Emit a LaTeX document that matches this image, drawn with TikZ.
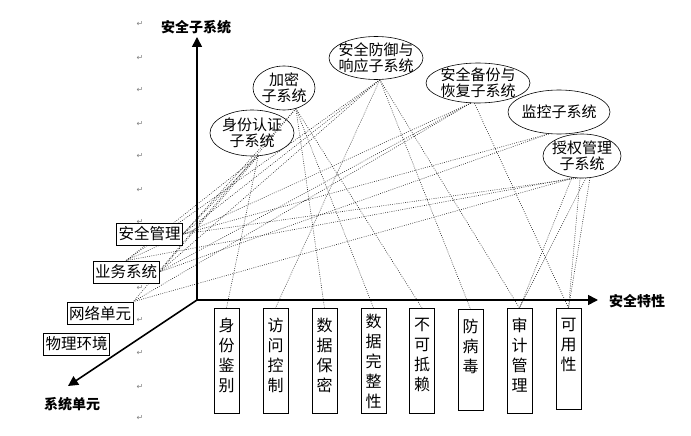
\documentclass[tikz,border=0pt]{standalone}
\usepackage{fontspec}
\newfontfamily\cjk{Noto Sans CJK SC}
\newfontfamily\dejavu{DejaVu Sans}
\usetikzlibrary{shapes.geometric,arrows.meta}
\begin{document}
\begin{tikzpicture}[x=1pt,y=-1pt,
  ell/.style={ellipse,draw,line width=0.6pt,inner sep=0pt},
  etxt/.style={font=\cjk\fontsize{15}{16}\selectfont,align=center,inner sep=0pt},
  lbox/.style={draw,fill=white,line width=0.8pt,minimum width=66pt,minimum height=22pt,inner sep=0pt,font=\cjk\fontsize{15.5}{16}\selectfont},
  vbox/.style={draw,fill=white,line width=0.8pt,minimum width=25pt,inner sep=0pt,anchor=north},
  vtxt/.style={font=\cjk\fontsize{16}{20}\selectfont,align=center,inner sep=0pt,anchor=north},
  link/.style={line width=0.6pt,black!85,dash pattern=on 0.8pt off 1.4pt},
  axis/.style={line width=1.6pt,-{Triangle[length=10pt,width=10pt]}},
  albl/.style={font=\cjk\bfseries\fontsize{14}{16}\selectfont,inner sep=0pt},
  ret/.style={font=\dejavu\fontsize{8}{8}\selectfont,text=black!50,inner sep=0pt}
]
\useasboundingbox (0,0) rectangle (691,436);

% paragraph marks
\foreach \yy in {24,58,90,124,156,190,222,288,320,353,387,418}
  \node[ret] at (140,\yy) {↵};

% ellipses (shapes only, named)
\node[ell,minimum width=84pt,minimum height=46pt] (eA) at (252,133) {};
\node[ell,minimum width=62pt,minimum height=44pt] (eB) at (284,88) {};
\node[ell,minimum width=94pt,minimum height=43pt] (eC) at (376,58) {};
\node[ell,minimum width=104pt,minimum height=40pt] (eD) at (478,83) {};
\node[ell,minimum width=102pt,minimum height=44pt] (eE) at (559,112) {};
\node[ell,minimum width=78pt,minimum height=44pt] (eF) at (582,156) {};

% positions of the boxes
\path (149.5,234) coordinate (sgc) (126,272) coordinate (ywc) (100,313) coordinate (wlc) (76.5,344) coordinate (wjc);
\path (226.5,308) coordinate (b1c) (275.5,308) coordinate (b2c) (324.5,308) coordinate (b3c)
      (373.5,308) coordinate (b4c) (422,308) coordinate (b5c) (470.5,309) coordinate (b6c)
      (519.5,308) coordinate (b7c) (568.5,308) coordinate (b8c);
\path node[lbox,draw=none,fill=none] (sg) at (sgc) {}
      node[lbox,draw=none,fill=none] (yw) at (ywc) {}
      node[lbox,draw=none,fill=none] (wl) at (wlc) {};
\foreach \n in {1,...,8} \path node[vbox,draw=none,fill=none,minimum height=100pt] (b\n) at (b\n c) {};

% dotted connectors
\draw[link] (eA.-75) -- (sg.east);
\draw[link] (eA.-75) -- (yw.north);
\draw[link] (eA.-75) -- (yw.east);
\draw[link] (eA.-75) -- (b1.north);
\draw[link] (eB.-60) -- (sg.east);
\draw[link] (eB.-60) -- (wl.north east);
\draw[link] (eB.-60) -- (b3.north);
\draw[link] (eB.-60) -- (b4.north);
\draw[link] (eB.-60) -- (b5.north);
\draw[link] (eC.-80) -- (sg.east);
\draw[link] (eC.-80) -- (yw.north);
\draw[link] (eC.-80) -- (yw.east);
\draw[link] (eC.-80) -- (b2.north);
\draw[link] (eC.-80) -- (b6.north);
\draw[link] (eC.-80) -- (b7.north);
\draw[link] (eD.-110) -- (yw.north);
\draw[link] (eD.-110) -- (yw.east);
\draw[link] (eD.-110) -- (wl.north east);
\draw[link] (eD.-100) -- (b8.north);
\draw[link] (eE.-115) -- (sg.east);
\draw[link] (eE.-115) -- (yw.east);
\draw[link] (eF.-110) -- (yw.north);
\draw[link] (eF.-110) -- (wl.north east);
\draw[link] (eF.-100) -- (sg.east);
\draw[link] (eF.-115) -- (b7.north);
\draw[link] (eF.-80) -- (b7.north);
\draw[link] (eF.-95) -- (b8.north);
\draw[link] (eF.-70) -- (b8.north);

% left boxes drawn
\node[lbox] at (sgc) {安全管理};
\node[lbox] at (ywc) {业务系统};
\node[lbox] at (wlc) {网络单元};
\node[lbox] (wj) at (wjc) {物理环境};

% bottom boxes
\node[vbox,minimum height=105pt] (v1) at (b1c) {};
\node[vbox,minimum height=105pt] (v2) at (b2c) {};
\node[vbox,minimum height=105pt] (v3) at (b3c) {};
\node[vbox,minimum height=105pt] (v4) at (b4c) {};
\node[vbox,minimum height=105pt] (v5) at (b5c) {};
\node[vbox,minimum height=101pt] (v6) at (b6c) {};
\node[vbox,minimum height=105pt] (v7) at (b7c) {};
\node[vbox,minimum height=101pt] (v8) at (b8c) {};
\node[vtxt] at ([yshift=-10pt]v1.north) {身\\份\\鉴\\别};
\node[vtxt] at ([yshift=-10pt]v2.north) {访\\问\\控\\制};
\node[vtxt] at ([yshift=-10pt]v3.north) {数\\据\\保\\密};
\node[vtxt] at ([yshift=-6pt]v4.north) {数\\据\\完\\整\\性};
\node[vtxt] at ([yshift=-10pt]v5.north) {不\\可\\抵\\赖};
\node[vtxt] at ([yshift=-10pt]v6.north) {防\\病\\毒};
\node[vtxt] at ([yshift=-10pt]v7.north) {审\\计\\管\\理};
\node[vtxt] at ([yshift=-10pt]v8.north) {可\\用\\性};

% ellipse texts
\node[etxt] at (eA) {身份认证\\子系统};
\node[etxt] at (eB) {加密\\子系统};
\node[etxt] at (eC) {安全防御与\\响应子系统};
\node[etxt] at (eD) {安全备份与\\恢复子系统};
\node[etxt] at (eE) {监控子系统};
\node[etxt] at (eF) {授权管理\\子系统};

% axes
\coordinate (O) at (197,300);
\coordinate (Ytip) at (197,37);
\coordinate (Xtip) at (598,300);
\coordinate (Ztip) at (68,386);
\draw[axis] (O) -- (Ytip);
\draw[axis] (O) -- (Xtip);
\draw[axis] (O) -- (Ztip);
\node[albl] (ly) at (196,27) {安全子系统};
\node[albl] (lx) at (637,301) {安全特性};
\node[albl] (lz) at (72,404) {系统单元};
\end{tikzpicture}
\end{document}
